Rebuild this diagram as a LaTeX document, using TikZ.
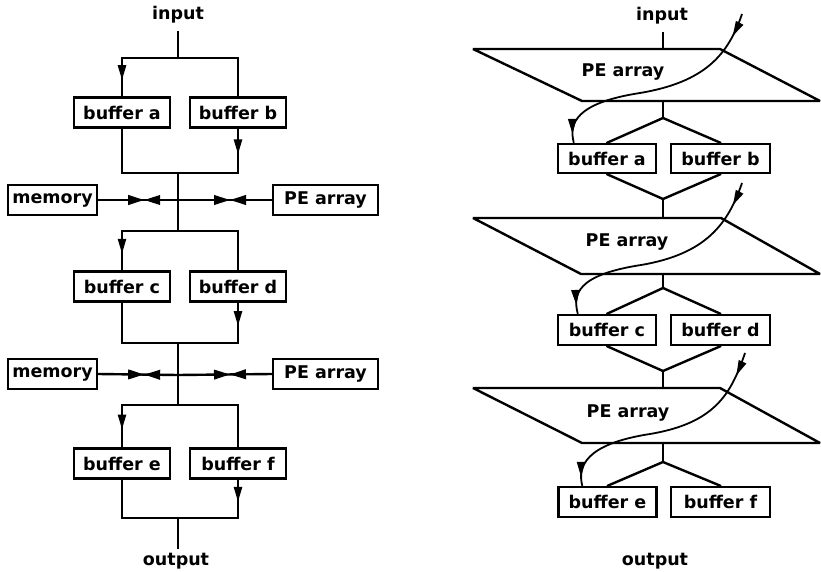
\documentclass[tikz,border=0pt]{standalone}
\usepackage{fontspec}
\setmainfont{DejaVu Sans}
\usetikzlibrary{arrows.meta,decorations.markings}

\tikzset{
  headtri/.tip={Triangle[length=15pt,width=8pt]},
  headwide/.tip={Triangle[length=16pt,width=9.5pt]},
  txt/.style={font=\fontsize{17.5}{20}\selectfont\bfseries, inner sep=0pt},
  buf/.style={draw, txt, minimum width=96pt, minimum height=30pt},
  midarrow/.style={postaction={decorate},
    decoration={markings, mark=at position #1 with {\arrow{headtri}}}},
  midarrow/.default=0.58,
  bowtie/.style={postaction={decorate},
    decoration={markings,
      mark=at position #1 with {\arrow{headwide}},
      mark=at position #1 with {\arrowreversed{headwide}}}},
  flow/.style={line width=1.8pt, postaction={decorate},
    decoration={markings,
      mark=at position 24pt with {\arrow{headtri}},
      mark=at position -9pt with {\arrow{headtri}}}},
  slab/.style={line join=bevel},
}

\begin{document}
\begin{tikzpicture}[x=1pt, y=-1pt, line width=2.4pt, line cap=rect]
\useasboundingbox (0,0) rectangle (821,572);

% ---------- left: buffered pipeline with memory and PE array taps ----------
\node[txt] (inL) at (178,15) {input};
\coordinate (inLb) at (178,32);
\coordinate (s1) at (178,58);
\node[buf] (ba) at (122,112.5) {buffer a};
\node[buf] (bb) at (238,112.5) {buffer b};
\coordinate (t1) at (178,173);
\coordinate (h1) at (178,200);
\node[buf, minimum width=89pt] (mem1) at (52.5,200) {memory};
\node[buf, minimum width=105pt] (pe1) at (325.5,200) {PE array};
\coordinate (s2) at (178,231);
\node[buf] (bc) at (122,286.5) {buffer c};
\node[buf] (bd) at (238,286.5) {buffer d};
\coordinate (t2) at (178,343);
\coordinate (h2) at (178,375);
\node[buf, minimum width=89pt] (mem2) at (52.5,374) {memory};
\node[buf, minimum width=105pt] (pe2) at (325.5,374) {PE array};
\coordinate (s3) at (178,405);
\node[buf] (be) at (122,463.5) {buffer e};
\node[buf] (bf) at (238,463.5) {buffer f};
\coordinate (t3) at (178,518);
\coordinate (outLb) at (178,548);
\node[txt] (outL) at (176,561) {output};

\draw (inLb) -- (s1);
\draw (ba.north |- s1) -- (bb.north |- s1);
\draw[midarrow] (ba.north |- s1) -- (ba.north);
\draw (bb.north |- s1) -- (bb.north);
\draw (ba.south) -- (ba.south |- t1) -- (bb.south |- t1);
\draw[midarrow] (bb.south) -- (bb.south |- t1);
\draw (t1) -- (h1) -- (s2);
\draw[bowtie=46pt] (mem1.east) -- (h1);
\draw[bowtie=52pt] (h1) -- (pe1.west);

\draw (bc.north |- s2) -- (bd.north |- s2);
\draw[midarrow] (bc.north |- s2) -- (bc.north);
\draw (bd.north |- s2) -- (bd.north);
\draw (bc.south) -- (bc.south |- t2) -- (bd.south |- t2);
\draw[midarrow] (bd.south) -- (bd.south |- t2);
\draw (t2) -- (h2) -- (s3);
\draw[bowtie=46pt] (mem2.east) -- (h2);
\draw[bowtie=52pt] (h2) -- (pe2.west);

\draw (be.north |- s3) -- (bf.north |- s3);
\draw[midarrow] (be.north |- s3) -- (be.north);
\draw (bf.north |- s3) -- (bf.north);
\draw (be.south) -- (be.south |- t3) -- (bf.south |- t3);
\draw[midarrow] (bf.south) -- (bf.south |- t3);
\draw (t3) -- (outLb);

% ---------- right: PE array stages feeding buffer pairs ----------
\node[txt] (inR) at (662,16) {input};
\coordinate (inRb) at (663,33);

% stage 1
\coordinate (p1t) at (663,49);
\draw[slab] (473,49) -- (720,49) -- (820,101) -- (582,101) -- cycle;
\node[txt] (peA) at (623,72) {PE array};
\coordinate (p1b) at (663,101);
\coordinate (a1) at (663,118);
\node[buf, minimum width=98pt, minimum height=29pt] (bA) at (607,158.5) {buffer a};
\node[buf, minimum width=99pt, minimum height=29pt] (bB) at (720.5,158.5) {buffer b};
\coordinate (v1) at (663,199);

% stage 2
\coordinate (p2t) at (663,218);
\draw[slab] (473,218) -- (721,218) -- (820,274) -- (581,274) -- cycle;
\node[txt] (peB) at (627,242) {PE array};
\coordinate (p2b) at (663,274);
\coordinate (a2) at (663,288);
\node[buf, minimum width=98pt, minimum height=30pt] (bC) at (607,330) {buffer c};
\node[buf, minimum width=99pt, minimum height=30pt] (bD) at (720.5,330) {buffer d};
\coordinate (v2) at (663,371);

% stage 3
\coordinate (p3t) at (663,388);
\draw[slab] (473,388) -- (720,388) -- (820,443) -- (582,443) -- cycle;
\node[txt] (peC) at (628,413) {PE array};
\coordinate (p3b) at (663,443);
\coordinate (a3) at (663,462);
\node[buf, minimum width=98pt, minimum height=30pt] (bE) at (607.5,502) {buffer e};
\node[buf, minimum width=99pt, minimum height=30pt] (bF) at (720.5,502) {buffer f};
\node[txt] (outR) at (655,561) {output};

\draw (inRb) -- (p1t);
\draw (p1b) -- (a1);
\draw[line cap=round, line join=round] (bA.north) -- (a1) -- (bB.north);
\draw[line cap=round, line join=round] (bA.south) -- (v1) -- (bB.south);
\draw (v1) -- (p2t);
\draw (p2b) -- (a2);
\draw[line cap=round, line join=round] (bC.north) -- (a2) -- (bD.north);
\draw[line cap=round, line join=round] (bC.south) -- (v2) -- (bD.south);
\draw (v2) -- (p3t);
\draw (p3b) -- (a3);
\draw[line cap=round, line join=round] (bE.north) -- (a3) -- (bF.north);

% curved feeds sweeping through each PE array into the left buffer
\coordinate (f1) at (742,14);
\coordinate (m1) at (640,93);
\coordinate (e1) at ([xshift=17pt]bA.north west);
\draw[flow, line cap=butt] (f1) .. controls +(-14,41) and +(65,-11) .. (m1)
  .. controls +(-65,10) and +(-5,-19) .. (e1);

\coordinate (f2) at (742,183);
\coordinate (m2) at (641,265);
\coordinate (e2) at ([xshift=21pt]bC.north west);
\draw[flow, line cap=butt] (f2) .. controls +(-14,41) and +(65,-11) .. (m2)
  .. controls +(-65,10) and +(-5,-19) .. (e2);

\coordinate (f3) at (745,353);
\coordinate (m3) at (650,434);
\coordinate (e3) at ([xshift=25pt]bE.north west);
\draw[flow, line cap=butt] (f3) .. controls +(-14,41) and +(65,-11) .. (m3)
  .. controls +(-65,10) and +(-5,-19) .. (e3);
\end{tikzpicture}
\end{document}
